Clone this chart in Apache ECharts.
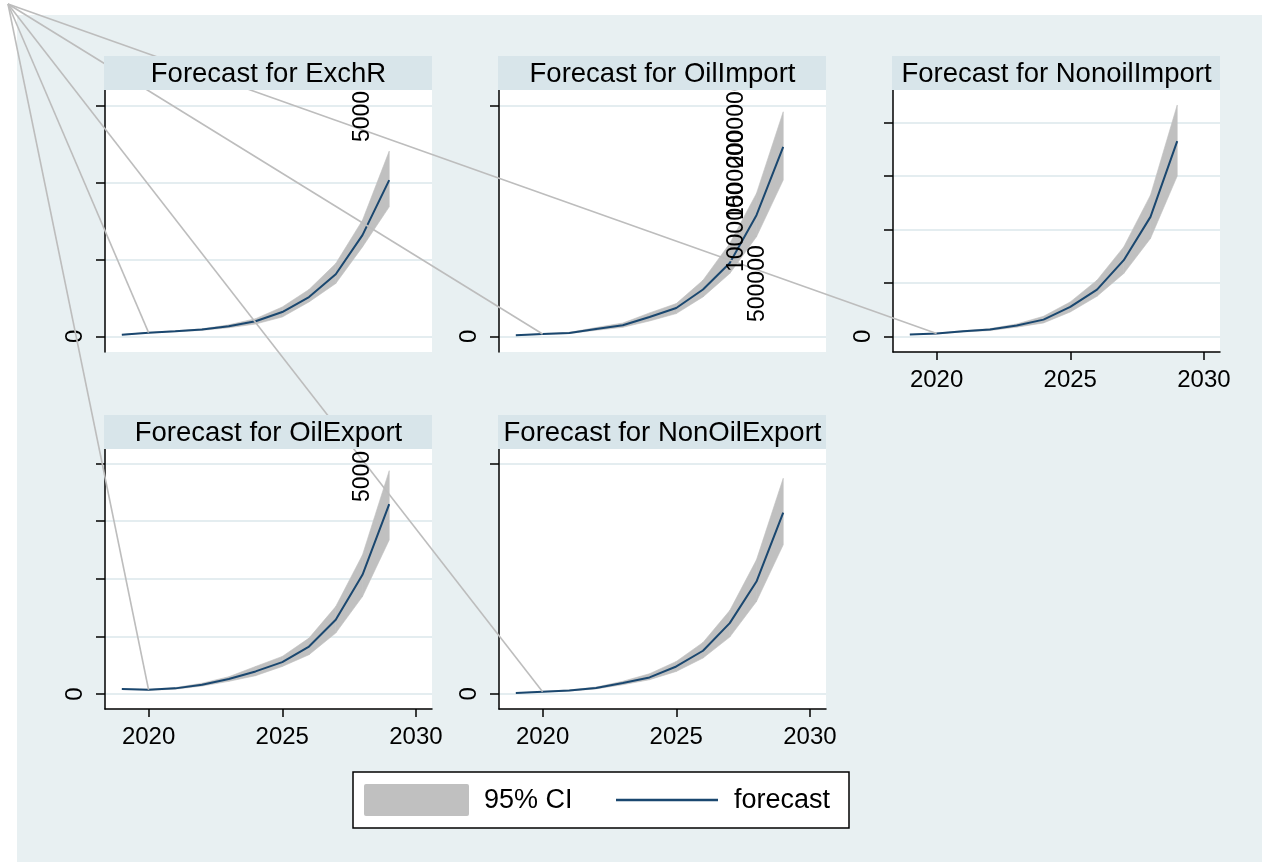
<!DOCTYPE html>
<html>
<head>
<meta charset="utf-8">
<title>Forecasts</title>
<script src="https://cdn.jsdelivr.net/npm/echarts@6/dist/echarts.min.js"></script>
<style>
  html, body { margin: 0; padding: 0; background: #fff; }
  #main { width: 1262px; height: 862px; }
</style>
</head>
<body>
<div id="main"></div>
<script>
// years on the x axis
var years = [2019, 2020, 2021, 2022, 2023, 2024, 2025, 2026, 2027, 2028, 2029];
var xTicks = [2020, 2025, 2030];

// ExchR
var exchrForecast = [110, 240, 330, 440, 650, 980, 1580, 2560, 4040, 6590, 10170];
var exchrLower    = [110, 220, 300, 390, 560, 800, 1260, 2240, 3440, 5820, 8430];
var exchrUpper    = [110, 260, 360, 490, 750, 1150, 1910, 3050, 4740, 7560, 12060];
var exchrTicks = [0, 5000, 10000, 15000];

// OilImport
var oilImportForecast = [9000, 20000, 29000, 64000, 96000, 168000, 246000, 406000, 637000, 1052000, 1646000];
var oilImportLower    = [9000, 17000, 24000, 52000, 78000, 133000, 197000, 342000, 545000, 864000, 1357000];
var oilImportUpper    = [9000, 23000, 34000, 76000, 115000, 203000, 284000, 487000, 806000, 1241000, 1950000];
var oilImportTicks = [0, 2000000];

// NonoilImport
var nonoilImportForecast = [32, 51, 94, 126, 201, 313, 550, 876, 1426, 2238, 3658];
var nonoilImportLower    = [32, 45, 82, 108, 172, 250, 456, 750, 1176, 1833, 3002];
var nonoilImportUpper    = [32, 57, 106, 144, 232, 375, 644, 1051, 1675, 2645, 4334];
var nonoilImportTicks = [0, 1000, 2000, 3000, 4000];

// OilExport
var oilExportForecast = [430, 370, 490, 810, 1300, 1960, 2770, 4120, 6440, 10340, 16470];
var oilExportLower    = [430, 330, 420, 690, 1100, 1590, 2390, 3410, 5290, 8460, 13370];
var oilExportUpper    = [430, 410, 560, 940, 1500, 2390, 3260, 4850, 7590, 12070, 19380];
var oilExportTicks = [0, 5000, 10000, 15000, 20000];

// NonOilExport
var nonOilExportForecast = [120, 350, 570, 990, 1860, 2830, 4730, 7460, 12260, 19470, 31440];
var nonOilExportLower    = [120, 300, 480, 830, 1560, 2430, 3870, 6190, 9830, 16010, 25840];
var nonOilExportUpper    = [120, 400, 660, 1150, 2160, 3470, 5600, 8900, 14440, 23240, 37400];
var nonOilExportTicks = [0, 40000];

var FONT = '"Liberation Sans", Arial, sans-serif';
var BG = '#e8f0f2';
var BAND = '#d8e5ea';
var GRIDLINE = '#e4edf0';
var CI = '#c0c0c0';
var NAVY = '#1a476f';

var panels = [
  { title: 'Forecast for ExchR', f: exchrForecast, lo: exchrLower, hi: exchrUpper, ticks: exchrTicks,
    yMin: -1020, yMax: 16040, showX: false, left: 105, top: 90, height: 262 },
  { title: 'Forecast for OilImport', f: oilImportForecast, lo: oilImportLower, hi: oilImportUpper, ticks: oilImportTicks,
    yMin: -136500, yMax: 2139000, showX: false, left: 499, top: 90, height: 262 },
  { title: 'Forecast for NonoilImport', f: nonoilImportForecast, lo: nonoilImportLower, hi: nonoilImportUpper, ticks: nonoilImportTicks,
    yMin: -294, yMax: 4615, showX: true, left: 893, top: 90, height: 262 },
  { title: 'Forecast for OilExport', f: oilExportForecast, lo: oilExportLower, hi: oilExportUpper, ticks: oilExportTicks,
    yMin: -1300, yMax: 21260, showX: true, left: 105, top: 449, height: 260 },
  { title: 'Forecast for NonOilExport', f: nonOilExportForecast, lo: nonOilExportLower, hi: nonOilExportUpper, ticks: nonOilExportTicks,
    yMin: -2653, yMax: 42480, showX: true, left: 499, top: 449, height: 260 }
];
var PW = 327;

// stray rotated tick labels sitting inside the panels (x, bottom y)
var strayLabels = [
  ['5000', 363, 142],
  ['2000000', 737, 168],
  ['1500000', 737, 220],
  ['1000000', 737, 272],
  ['500000', 758, 322],
  ['5000', 363, 502]
];

function zip(a, b) {
  return a.map(function (v, i) { return [v, b[i]]; });
}

// CI band: one quad per pair of neighbouring years
function bandRenderer(p) {
  return function (params, api) {
    var k = params.dataIndex;
    if (k >= years.length - 1) return null;
    var pts = [
      api.coord([years[k], p.lo[k]]),
      api.coord([years[k + 1], p.lo[k + 1]]),
      api.coord([years[k + 1], p.hi[k + 1]]),
      api.coord([years[k], p.hi[k]])
    ];
    return {
      type: 'polygon',
      shape: { points: pts },
      style: { fill: CI, stroke: CI, lineWidth: 0.6 }
    };
  };
}

var grids = [], xAxes = [], yAxes = [], series = [];
panels.forEach(function (p, i) {
  grids.push({ left: p.left, top: p.top, width: PW, height: p.height, show: true,
    backgroundColor: '#fff', borderWidth: 0 });
  xAxes.push({
    gridIndex: i, type: 'value', min: 2018.37, max: 2030.6, show: p.showX,
    axisLine: { show: true, onZero: false, lineStyle: { color: '#000', width: 1.5 } },
    axisTick: { show: true, length: 8, customValues: xTicks, lineStyle: { color: '#000', width: 1.5 } },
    axisLabel: { customValues: xTicks, fontSize: 24, color: '#000', fontFamily: FONT, margin: 16,
      formatter: function (v) { return String(v); } },
    splitLine: { show: false }
  });
  yAxes.push({
    gridIndex: i, type: 'value', min: p.yMin, max: p.yMax,
    axisLine: { show: true, onZero: false, lineStyle: { color: '#000', width: 1.5 } },
    axisTick: { show: true, length: 9, customValues: p.ticks, lineStyle: { color: '#000', width: 1.5 } },
    axisLabel: { customValues: [0], rotate: 90, fontSize: 24, color: '#000', fontFamily: FONT, margin: 18 },
    splitLine: { show: true, lineStyle: { color: GRIDLINE, width: 2 } }
  });
  series.push({
    type: 'custom', xAxisIndex: i, yAxisIndex: i, renderItem: bandRenderer(p),
    data: years.map(function (y, k) { return [y, p.lo[k], p.hi[k]]; }),
    encode: { x: 0, y: [1, 2] }, silent: true, z: 2
  });
  series.push({
    type: 'line', xAxisIndex: i, yAxisIndex: i, data: zip(years, p.f),
    symbol: 'none', lineStyle: { color: NAVY, width: 2 }, silent: true, z: 3
  });
});

var chart = echarts.init(document.getElementById('main'));
chart.setOption({
  animation: false,
  backgroundColor: '#fff',
  grid: grids,
  xAxis: xAxes,
  yAxis: yAxes,
  series: series
});

var graphics = [];
graphics.push({ type: 'rect', shape: { x: 17, y: 15, width: 1245, height: 847 }, style: { fill: BG }, z: -1, silent: true });

panels.forEach(function (p, i) {
  // grey lines running from the corner to each 2020 point
  var pt = chart.convertToPixel({ gridIndex: i }, [years[1], p.f[1]]);
  graphics.push({ type: 'line', shape: { x1: 8, y1: 4, x2: pt[0], y2: pt[1] },
    style: { stroke: '#bdbdbd', lineWidth: 1.6 }, z: 5, silent: true });
  // title band
  graphics.push({ type: 'rect', shape: { x: p.left - 1, y: p.top - 34, width: PW + 1, height: 34 },
    style: { fill: BAND }, z: 10, silent: true });
  graphics.push({ type: 'text', x: p.left + PW / 2, y: p.top - 16, z: 11, silent: true,
    style: { text: p.title, fill: '#000', fontSize: 27.5, fontFamily: FONT, align: 'center', verticalAlign: 'middle' } });
});

strayLabels.forEach(function (s) {
  graphics.push({ type: 'text', x: s[1], y: s[2], rotation: Math.PI / 2, z: 8, silent: true,
    style: { text: s[0], fill: '#000', fontSize: 23, fontFamily: FONT, align: 'left', verticalAlign: 'middle' } });
});

// legend
graphics.push({ type: 'rect', shape: { x: 353, y: 772, width: 496, height: 56 },
  style: { fill: '#fff', stroke: '#000', lineWidth: 1.5 }, z: 10, silent: true });
graphics.push({ type: 'rect', shape: { x: 364, y: 784, width: 105, height: 32, r: 2 },
  style: { fill: CI }, z: 11, silent: true });
graphics.push({ type: 'text', x: 484, y: 801, z: 11, silent: true,
  style: { text: '95% CI', fill: '#000', fontSize: 27, fontFamily: FONT, align: 'left', verticalAlign: 'middle' } });
graphics.push({ type: 'line', shape: { x1: 616, y1: 800, x2: 718, y2: 800 },
  style: { stroke: NAVY, lineWidth: 2.5 }, z: 11, silent: true });
graphics.push({ type: 'text', x: 734, y: 801, z: 11, silent: true,
  style: { text: 'forecast', fill: '#000', fontSize: 27, fontFamily: FONT, align: 'left', verticalAlign: 'middle' } });

chart.setOption({ graphic: graphics });
</script>
</body>
</html>
